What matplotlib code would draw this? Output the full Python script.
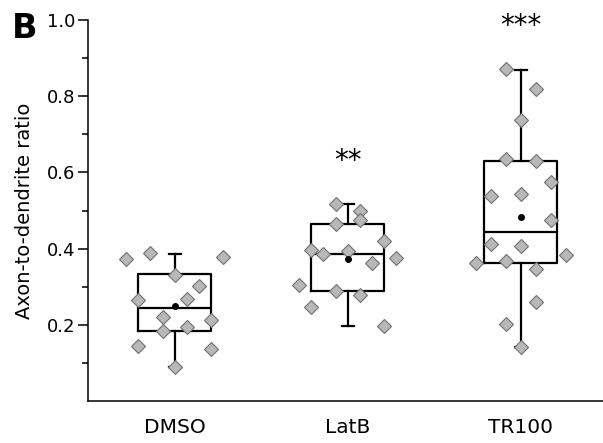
# Axon-to-dendrite ratio, box plot with jittered points (panel B)
from matplotlib import pyplot as plt

groups = ["DMSO", "LatB", "TR100"]

dmso = [0.373, 0.388, 0.379, 0.331, 0.303, 0.266, 0.267, 0.221, 0.212, 0.184, 0.193, 0.145, 0.136, 0.089]
latb = [0.516, 0.498, 0.476, 0.465, 0.421, 0.397, 0.386, 0.393, 0.375, 0.362, 0.305, 0.289, 0.279, 0.247, 0.197]
tr100 = [0.871, 0.820, 0.737, 0.636, 0.630, 0.574, 0.537, 0.544, 0.476, 0.411, 0.408, 0.383, 0.362, 0.367,
         0.346, 0.261, 0.203, 0.142]

# horizontal jitter of the points (data units)
dmso_jit = [-0.28, -0.14, 0.28, 0.0, 0.14, -0.21, 0.07, -0.07, 0.21, -0.07, 0.07, -0.21, 0.21, 0.0]
latb_jit = [-0.07, 0.07, 0.07, -0.07, 0.21, -0.21, -0.14, 0.0, 0.28, 0.14, -0.28, -0.07, 0.07, -0.21, 0.21]
tr100_jit = [-0.087, 0.087, 0.0, -0.087, 0.087, 0.174, -0.174, 0.0, 0.174, -0.174, 0.0, 0.261, -0.261,
             -0.087, 0.087, 0.087, -0.087, 0.0]

# box statistics
q1 = [0.184, 0.289, 0.362]
med = [0.244, 0.386, 0.443]
q3 = [0.334, 0.465, 0.630]
whis_lo = [0.089, 0.197, 0.142]
whis_hi = [0.386, 0.516, 0.870]
means = [0.249, 0.373, 0.484]
stars = ["", "**", "***"]
star_y = [0, 0.63, 0.985]

fig = plt.figure(figsize=(6.03, 4.43), dpi=100)
ax = fig.add_axes([88 / 603, 42 / 443, 515 / 603, 381 / 443])

stats = []
for i in range(3):
    stats.append(dict(label=groups[i], q1=q1[i], med=med[i], q3=q3[i],
                      whislo=whis_lo[i], whishi=whis_hi[i], mean=means[i], fliers=[]))

lw = 1.6
ax.bxp(stats, positions=[1, 2, 3], widths=0.42, capwidths=0.07, showmeans=False,
       boxprops=dict(color="black", linewidth=lw),
       medianprops=dict(color="black", linewidth=lw),
       whiskerprops=dict(color="black", linewidth=lw),
       capprops=dict(color="black", linewidth=lw))

for i, (vals, jit) in enumerate([(dmso, dmso_jit), (latb, latb_jit), (tr100, tr100_jit)]):
    xs = [i + 1 + j for j in jit]
    ax.plot(xs, vals, linestyle="none", marker="D", markersize=6.8,
            markerfacecolor="#b8b8b8", markeredgecolor="#707070", markeredgewidth=0.8, zorder=3)
    ax.plot(i + 1, means[i], marker="o", markersize=4, color="black", zorder=4)
    if stars[i]:
        ax.text(i + 1, star_y[i], stars[i], ha="center", va="center", fontsize=20)

ax.set_xlim(0.499, 3.476)
ax.set_ylim(0, 1.0)
ax.set_yticks([0.2, 0.4, 0.6, 0.8, 1.0])
ax.set_yticklabels(["0.2", "0.4", "0.6", "0.8", "1.0"])
ax.set_yticks([0.1, 0.3, 0.5, 0.7, 0.9], minor=True)
ax.set_xticks([1, 2, 3])
ax.set_xticklabels(groups, fontsize=14.5)
ax.tick_params(axis="x", length=0, pad=12)
ax.tick_params(axis="y", which="major", length=7, width=1.1, labelsize=13, pad=2)
ax.tick_params(axis="y", which="minor", length=4, width=1.1)
ax.spines["top"].set_visible(False)
ax.spines["right"].set_visible(False)
ax.spines["left"].set_linewidth(1.1)
ax.spines["bottom"].set_linewidth(1.1)
ax.set_ylabel("Axon-to-dendrite ratio", fontsize=14, labelpad=9)

fig.text(0.02, 0.935, "B", fontsize=24, fontweight="bold", va="center")

plt.savefig("out.png")
